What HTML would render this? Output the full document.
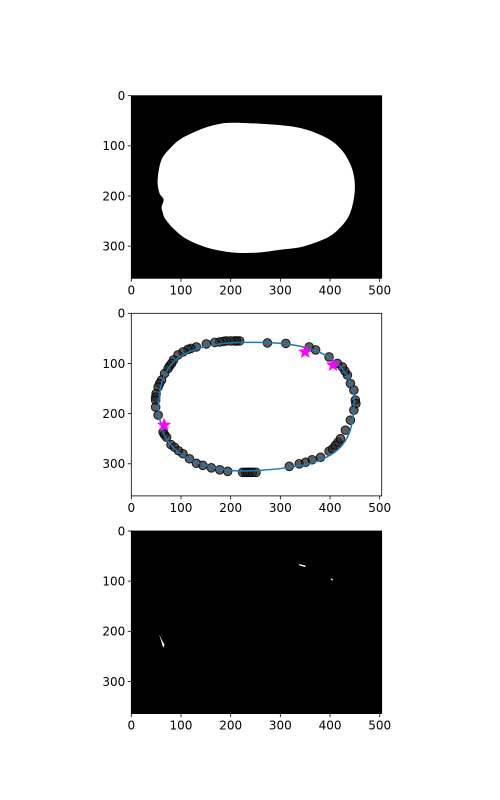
<!DOCTYPE html>
<html><head><meta charset="utf-8"><style>
html,body{margin:0;padding:0;background:#fff;}
svg{display:block;font-family:"DejaVu Sans","Liberation Sans",sans-serif;}
</style></head><body>
<svg id="fig" width="500" height="800" viewBox="0 0 500 800"></svg>
<script>
const imgW = 504, imgH = 364;
const xTicks = [0,100,200,300,400,500];
const yTicks = [0,100,200,300];
const maskX = [200,260,320,360,400,425,440,447,450,448,440,425,400,370,340,300,250,200,150,110,85,68,63,61,65,57,53,55,62,78,100,140,170];
const maskY = [54,56,61,70,88,110,135,155,178,205,235,258,280,293,302,307,313,312,302,285,265,245,232,222,207,195,175,150,125,105,86,67,58];
const ptX = [218,212,208,200,191,185,178,168,151,131,120,114,104,94,85,81,77,74,67,61,57,54,50,49,49,49,54,64,67,71,80,87,95,104,117,131,144,161,178,194,224,230,234,239,244,251,318,338,351,364,381,398,405,411,416,421,431,441,448,451,452,448,441,435,430,425,415,398,371,358,311,274];
const ptY = [55,55,55,55,55,56,57,58,61,67,70,72,77,83,93,100,105,110,120,133,140,147,160,167,173,187,203,237,242,247,262,267,274,280,290,299,303,308,312,315,317,317,317,317,317,317,305,300,297,292,287,275,270,263,257,250,233,213,193,173,180,153,140,123,115,107,100,87,73,67,60,59];
const lineX = [250,300,350,390,420,440,448,447,440,425,400,365,320,260,210,160,115,85,68,60,55,57,65,82,110,150,200];
const lineY = [58,60,68,83,105,135,165,200,235,262,283,298,307,313,314,306,290,268,245,222,195,160,128,100,80,66,59];
const starX = [350,406,66];
const starY = [77,103,223];
const blobs = [
  {x:[338,351,350,337], y:[66,69,72,68]},
  {x:[402,406,405,401], y:[94,97,99,96]},
  {x:[56,63,67,64,62], y:[206,220,227,233,225]}
];
const NS="http://www.w3.org/2000/svg";
const svg=document.getElementById('fig');
const axTops=[95.7,313.3,531];
const axL=131.3, axW=250.4, axH=182.6;
function mk(tag,attrs,parent){const e=document.createElementNS(NS,tag);for(const k in attrs)e.setAttribute(k,attrs[k]);(parent||svg).appendChild(e);return e;}
function sx(v){return axL+v/imgW*axW;}
function makeSy(top){return v=>top+v/imgH*axH;}
function poly(xs,ys,sy){return xs.map((x,i)=>sx(x).toFixed(2)+','+sy(ys[i]).toFixed(2)).join(' ');}
function smoothClosed(xs,ys,sy){
  const P=xs.map((x,i)=>[sx(x),sy(ys[i])]);const n=P.length;
  let d='M'+P[0][0].toFixed(2)+','+P[0][1].toFixed(2);
  for(let i=0;i<n;i++){
    const p0=P[(i-1+n)%n],p1=P[i],p2=P[(i+1)%n],p3=P[(i+2)%n];
    const c1=[p1[0]+(p2[0]-p0[0])/6,p1[1]+(p2[1]-p0[1])/6];
    const c2=[p2[0]-(p3[0]-p1[0])/6,p2[1]-(p3[1]-p1[1])/6];
    d+='C'+c1.map(v=>v.toFixed(2)).join(',')+' '+c2.map(v=>v.toFixed(2)).join(',')+' '+p2[0].toFixed(2)+','+p2[1].toFixed(2);
  }
  return d+'Z';
}
function starPts(cx,cy,R){const r=R*0.42;let p=[];for(let i=0;i<10;i++){const a=-Math.PI/2+i*Math.PI/5;const rr=i%2?r:R;p.push((cx+rr*Math.cos(a)).toFixed(2)+','+(cy+rr*Math.sin(a)).toFixed(2));}return p.join(' ');}
const names=['mask-panel','contour-panel','diff-panel'];
axTops.forEach((top,k)=>{
  const sy=makeSy(top);
  const g=mk('g',{});
  
  
  const bg=mk('rect',{x:axL,y:top,width:axW,height:axH,fill:k===1?'#fff':'#000'},g);
  
  
  if(k===0){
    const m=mk('path',{d:smoothClosed(maskX,maskY,sy),fill:'#fff'},g);
    
    
  }
  if(k===1){
    ptX.forEach((x,i)=>{
      const c=mk('circle',{cx:sx(x),cy:sy(ptY[i]),r:4.3,fill:'rgba(40,40,40,0.75)',stroke:'rgba(0,0,0,0.85)','stroke-width':1},g);
      
      
    });
    const l=mk('path',{d:smoothClosed(lineX,lineY,sy),fill:'none',stroke:'#1f77b4','stroke-width':1.5},g);
    
    
    starX.forEach((x,i)=>{
      const s=mk('polygon',{points:starPts(sx(x),sy(starY[i]),7.5),fill:'#ff00ff'},g);
      
      
    });
  }
  if(k===2){
    blobs.forEach(b=>{
      const p=mk('polygon',{points:poly(b.x,b.y,sy),fill:'#fff'},g);
      
      
    });
  }
  const fr=mk('rect',{x:axL,y:top,width:axW,height:axH,fill:'none',stroke:'#000','stroke-width':0.8},g);
  
  
  xTicks.forEach(t=>{
    const x=sx(t);
    mk('line',{x1:x,y1:top+axH,x2:x,y2:top+axH+3.5,stroke:'#000','stroke-width':0.8},g);
    const tx=mk('text',{x:x,y:top+axH+16,'text-anchor':'middle','font-size':'12px',fill:'#000'},g);
    tx.textContent=t;
    
    
  });
  yTicks.forEach(t=>{
    const y=sy(t);
    mk('line',{x1:axL-3.5,y1:y,x2:axL,y2:y,stroke:'#000','stroke-width':0.8},g);
    const tx=mk('text',{x:axL-6,y:y+4.3,'text-anchor':'end','font-size':'12px',fill:'#000'},g);
    tx.textContent=t;
    
    
  });
});
</script>
</body></html>
